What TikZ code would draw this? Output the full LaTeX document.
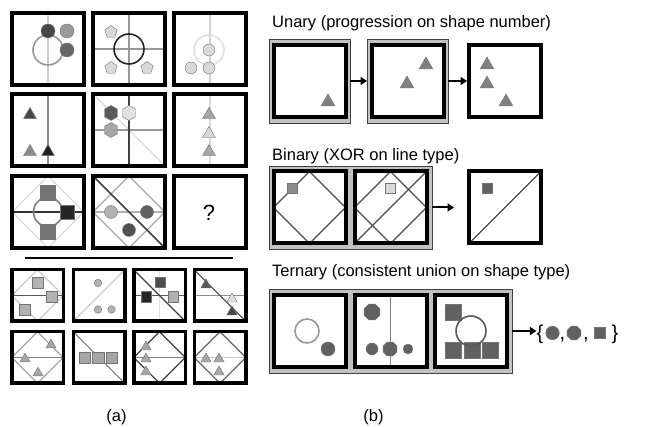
\documentclass[tikz,border=0pt]{standalone}
\usepackage{fontspec}
\setmainfont{Liberation Sans}
\usetikzlibrary{arrows.meta}

\newcommand\shpoly[5]{\filldraw[fill=#5, draw=black!55, line width=0.4pt] #4 +(#2:#3pt)
    \foreach \k in {1,...,#1} { -- +(#2+\k*360/#1:#3pt) } -- cycle;}
\newcommand\shdisc[3]{\filldraw[fill=#3, draw=black!55, line width=0.4pt] #2 circle (#1pt);}

\begin{document}
\begin{tikzpicture}[x=1pt, y=-1pt,
    panel/.style={fill=white, minimum size=72pt, inner sep=0pt, outer sep=0pt},
    opt/.style={panel, minimum size=51.5pt},
    frame/.style={line width=4pt},
    selbox/.style={fill=black!24, draw=black!75, line width=0.6pt, inner sep=0pt, outer sep=0pt},
    conn/.style={line width=2pt, -{Triangle[length=6.5pt,width=8pt]}},
    thin/.style={line width=1.3pt},
    heading/.style={font=\fontsize{16.5}{19}\selectfont, inner sep=0pt, anchor=base west}]

    \useasboundingbox (0,0) rectangle (651,427);

    % (a) the puzzle and its answers
    \node[panel] (m11) at (48,49) {};
    \node[panel] (m12) at (129,49) {};
    \node[panel] (m13) at (210,49) {};
    \node[panel] (m21) at (48,130) {};
    \node[panel] (m22) at (129,130) {};
    \node[panel] (m23) at (210,130) {};
    \node[panel] (m31) at (48,212) {};
    \node[panel] (m32) at (129,212) {};
    \node[panel] (m33) at (210,212) {};
    \node[opt] (o1) at (37.5,295.5) {};
    \node[opt] (o2) at (99,295.5) {};
    \node[opt] (o3) at (159.5,295.5) {};
    \node[opt] (o4) at (220,295.5) {};
    \node[opt] (o5) at (37.5,357.5) {};
    \node[opt] (o6) at (99,357.5) {};
    \node[opt] (o7) at (159.5,357.5) {};
    \node[opt] (o8) at (220,357.5) {};

    \draw[thin, black!20] (m11.north) -- (m11.south);
    \draw[black!40, line width=1.6pt] (48,50) circle (15pt);
    \shdisc{7}{(48,31)}{black!72}
    \shdisc{7}{(67,31)}{black!40}
    \shdisc{7}{(67,50)}{black!60}

    \draw[thin, black!40] (m12.north) -- (m12.south) (m12.west) -- (m12.east);
    \draw[black!85, line width=1.6pt] (m12) circle (15pt);
    \foreach \x/\y in {111/32,111/68,147/68} {
        \shpoly{5}{90}{6.5}{(\x,\y)}{black!15}
    }

    \draw[thin, black!18] (m13.north) -- (m13.south);
    \draw[black!12, line width=1.6pt] (209,50) circle (15pt);
    \foreach \x/\y in {209/50,209/68,191/68} {
        \shdisc{6}{(\x,\y)}{black!15}
    }

    \draw[thin, black!45] (m21.north) -- (m21.south);
    \shpoly{3}{90}{7.5}{(30,115)}{black!72}
    \shpoly{3}{90}{7.5}{(30,152)}{black!45}
    \shpoly{3}{90}{7.5}{(48,152)}{black!88}

    \draw[thin, black!15] (m22.north west) -- (m22.south east);
    \draw[thin, black!40] (m22.west) -- (m22.east);
    \draw[thin, black!75] (m22.north) -- (m22.south);
    \shpoly{6}{90}{7.5}{(111,113)}{black!65}
    \shpoly{6}{90}{7.5}{(129,113)}{black!12}
    \shpoly{6}{90}{7.5}{(111,130)}{black!35}

    \draw[thin, black!15] (m23.north) -- (m23.south);
    \foreach \y/\c in {115/35,134/15,152/35} {
        \shpoly{3}{90}{7.5}{(209,\y)}{black!\c}
    }

    \draw[thin, black!15] (m31.north) -- (m31.east) -- (m31.south) -- (m31.west) -- cycle;
    \draw[thin, black!80] (m31.west) -- (m31.east);
    \draw[black!50, line width=1.6pt] (48,212) circle (14.5pt);
    \shpoly{4}{45}{10.6}{(48,193)}{black!55}
    \shpoly{4}{45}{10}{(67,212)}{black!85}
    \shpoly{4}{45}{10.6}{(48,232)}{black!55}

    \draw[thin, black!35] (m32.north) -- (m32.east) -- (m32.south) -- (m32.west) -- cycle;
    \draw[thin, black!30] (m32.west) -- (m32.east);
    \draw[black!75, line width=1.6pt] (m32.north west) -- (m32.south east);
    \shdisc{6.5}{(111,212)}{black!30}
    \shdisc{6.5}{(147,212)}{black!62}
    \shdisc{6.5}{(129,230)}{black!68}

    \node[font=\fontsize{22}{24}\selectfont, inner sep=0pt] (qm) at (209,213) {?};

    \draw[line width=2pt] (25,258) -- (233,258);

    \draw[thin, black!20] (o1.north) -- (o1.east) -- (o1.south) -- (o1.west) -- cycle;
    \draw[thin, black!65] (o1.west) -- (o1.east);
    \foreach \x/\y in {38/282.5,52/296.5,25/310} {
        \shpoly{4}{45}{7.8}{(\x,\y)}{black!30}
    }

    \draw[thin, black!20] (o2.south west) -- (o2.north east);
    \foreach \x/\y in {98/283,98/309.5,111.5/309.5} {
        \shdisc{3.8}{(\x,\y)}{black!30}
    }

    \draw[thin, black!12] (o3.north) -- (o3.south);
    \draw[thin, black!65] (o3.west) -- (o3.east);
    \draw[thin, black!75] (o3.north west) -- (o3.south east);
    \shpoly{4}{45}{7.4}{(160,282)}{black!70}
    \shpoly{4}{45}{7.4}{(146,296.5)}{black!85}
    \shpoly{4}{45}{7.4}{(173,296.5)}{black!30}

    \draw[thin, black!45] (o4.west) -- (o4.east);
    \draw[thin, black!65] (o4.north west) -- (o4.south east);
    \shpoly{3}{90}{6}{(206,285)}{black!65}
    \shpoly{3}{90}{6}{(232,299)}{black!12}
    \shpoly{3}{90}{6}{(232,312)}{black!72}

    \draw[thin, black!35] (o5.north) -- (o5.east) -- (o5.south) -- (o5.west) -- cycle;
    \draw[thin, black!50] (o5.west) -- (o5.east);
    \foreach \x/\y in {51/345,25/359,38/373} {
        \shpoly{3}{90}{5.8}{(\x,\y)}{black!35}
    }

    \draw[thin, black!45] (o6.north west) -- (o6.south east);
    \foreach \x in {84.5,98.3,111.7} {
        \shpoly{4}{45}{8}{(\x,357.5)}{black!35}
    }

    \draw[thin, black!75] (o7.north) -- (o7.east) -- (o7.south) -- (o7.west) -- cycle;
    \draw[thin, black!50] (o7.west) -- (o7.east);
    \foreach \y in {347,359,372} {
        \shpoly{3}{90}{6}{(146,\y)}{black!35}
    }

    \draw[thin, black!60] (o8.north) -- (o8.east) -- (o8.south) -- (o8.west) -- cycle;
    \draw[thin, black!20] (o8.west) -- (o8.east);
    \foreach \x/\y in {206/359,219/359,219/372} {
        \shpoly{3}{90}{6}{(\x,\y)}{black!35}
    }

    % (b) the three kinds of rule
    \node[selbox, minimum width=81pt, minimum height=84pt] (ubox1) at (309.5,81) {};
    \node[selbox, minimum width=81pt, minimum height=84pt] (ubox2) at (407.5,81) {};
    \node[selbox, minimum width=163pt, minimum height=83pt] (binbox) at (350.5,207.5) {};
    \node[selbox, minimum width=243pt, minimum height=84pt] (terbox) at (390.5,331) {};

    \node[panel] (un1) at (309.5,81) {};
    \node[panel] (un2) at (407.5,81) {};
    \node[panel] (un3) at (505,81) {};
    \node[panel] (bi1) at (309.5,207.5) {};
    \node[panel] (bi2) at (390.5,207.5) {};
    \node[panel] (bi3) at (505,207.5) {};
    \node[panel] (te1) at (310,331) {};
    \node[panel] (te2) at (390.5,331) {};
    \node[panel] (te3) at (471,331) {};

    \foreach \x/\y in {328/102,426/65,407/84,487/65,487/84,506/102} {
        \shpoly{3}{90}{8}{(\x,\y)}{black!50}
    }

    \draw[thin, black!70] (bi1.north) -- (bi1.east) -- (bi1.south) -- (bi1.west) -- cycle;
    \shpoly{4}{45}{7.2}{(292,188)}{black!45}
    \draw[thin, black!70] (bi2.north) -- (bi2.east) -- (bi2.south) -- (bi2.west) -- cycle;
    \draw[thin, black!70] (bi2.south west) -- (bi2.north east);
    \shpoly{4}{45}{7.2}{(390,188)}{black!15}
    \draw[thin, black!70] (bi3.south west) -- (bi3.north east);
    \shpoly{4}{45}{7.2}{(487,188)}{black!62}

    \draw[black!40, line width=1.6pt] (307,331) circle (12pt);
    \shdisc{7}{(328,349)}{black!62}

    \draw[thin, black!50] (te2.north) -- (te2.south);
    \shpoly{8}{22.5}{8.5}{(372,312)}{black!62}
    \shdisc{6}{(372,349)}{black!62}
    \shpoly{8}{22.5}{7.5}{(390,349)}{black!62}
    \shdisc{5}{(408,349)}{black!62}

    \shpoly{4}{45}{11.3}{(453,312)}{black!62}
    \foreach \x in {453,472,490} {
        \shpoly{4}{45}{11.3}{(\x,350)}{black!62}
    }
    \draw[black!65, line width=1.6pt] (471,331) circle (15pt);

    \foreach \p in {m11,m12,m13,m21,m22,m23,m31,m32,m33,un1,un2,un3,bi1,bi2,bi3,te1,te2,te3} {
        \draw[frame] (\p.north west) rectangle (\p.south east);
    }
    \foreach \i in {1,...,8} {
        \draw[line width=3.5pt] (o\i.north west) rectangle (o\i.south east);
    }

    \node[font=\fontsize{20}{22}\selectfont, inner sep=0pt, anchor=base] (lbr) at (540,340) {\{};
    \shdisc{6.8}{(552.5,333)}{black!62}
    \node[font=\fontsize{20}{22}\selectfont, inner sep=0pt, anchor=base] (cm1) at (562.5,340) {,};
    \shpoly{8}{22.5}{7.4}{(574,333)}{black!62}
    \node[font=\fontsize{20}{22}\selectfont, inner sep=0pt, anchor=base] (cm2) at (586,340) {,};
    \shpoly{4}{45}{7.8}{(599.5,333)}{black!62}
    \node[font=\fontsize{20}{22}\selectfont, inner sep=0pt, anchor=base] (rbr) at (615,340) {\}};

    \draw[conn] (ubox1) -- (ubox2);
    \draw[conn, shorten >=2pt] (ubox2) -- (un3);
    \draw[conn, shorten >=15pt] (binbox) -- (bi3);
    \draw[conn] (terbox.east) -- (terbox.east -| lbr.west);

    \node[heading] (tun) at (272,27.5) {Unary (progression on shape number)};
    \node[heading] (tbi) at (272,161) {Binary (XOR on line type)};
    \node[heading] (tte) at (272,277) {Ternary (consistent union on shape type)};
    \node[heading, anchor=base] (capa) at (116.5,422) {(a)};
    \node[heading, anchor=base] (capb) at (373.5,422) {(b)};
\end{tikzpicture}
\end{document}
